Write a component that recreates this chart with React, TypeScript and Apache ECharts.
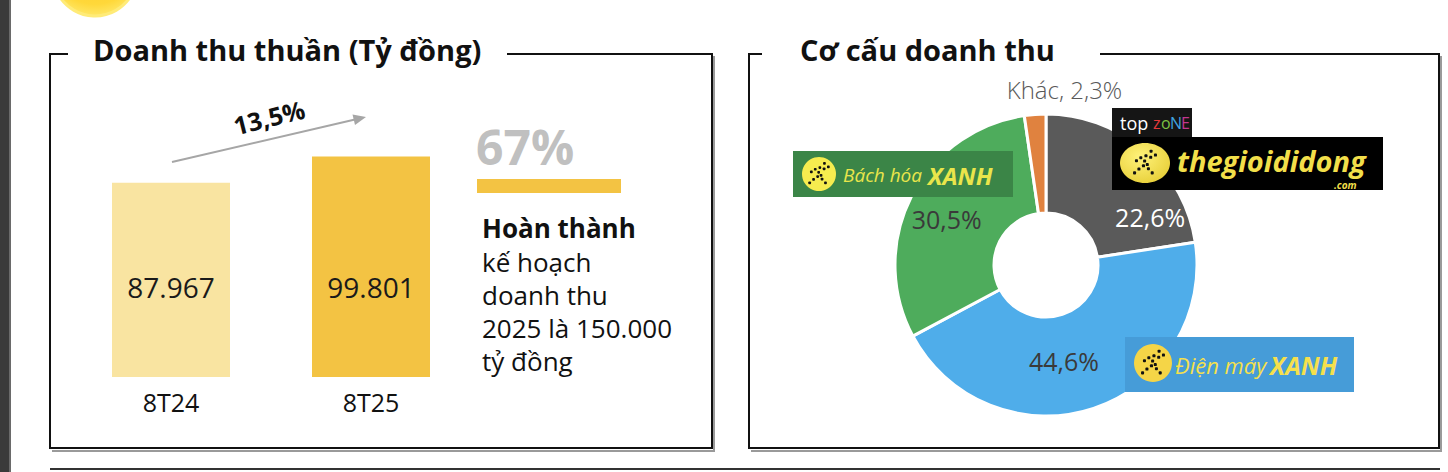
import React, { useEffect, useRef } from "react";
import * as echarts from "echarts";

// ---------- data ----------
const barCategories = ["8T24", "8T25"];
const barValues = [87967, 99801];
const barLabels = ["87.967", "99.801"];
const barColors = ["#F9E4A1", "#F3C343"];

const pieNames = ["Thế Giới Di Động", "Điện Máy Xanh", "Bách Hóa Xanh", "Khác"];
const pieValues = [22.6, 44.6, 30.5, 2.3];
const pieLabels = ["22,6%", "44,6%", "30,5%", "Khác, 2,3%"];
const pieColors = ["#5A5A5A", "#4FADEA", "#4EAC5C", "#E0823F"];
const pieLabelColors = ["#FFFFFF", "#3A3A3A", "#3A3A3A", "#595959"];

const leftTitle = "Doanh thu thuần (Tỷ đồng)";
const rightTitle = "Cơ cấu doanh thu";
const growthText = "13,5%";
const planPct = "67%";
const planHead = "Hoàn thành";
const planLines = ["kế hoạch", "doanh thu", "2025 là 150.000", "tỷ đồng"];

const F = "'Open Sans', 'Noto Sans', sans-serif";

function txt(x: number, y: number, text: string, font: string, fill: string, align = "left", extra: any = {}) {
  return {
    type: "text",
    x,
    y,
    z: 100,
    style: { text, font, fill, align, verticalAlign: "middle" },
    ...extra,
  };
}

function runner(cx: number, cy: number, r: number) {
  const pts = [
    [0.32, -0.62], [0.05, -0.38], [0.3, -0.3], [0.55, -0.42], [-0.22, -0.28],
    [-0.45, -0.12], [-0.02, -0.1], [-0.08, 0.15], [0.18, 0.3], [0.38, 0.52],
    [-0.32, 0.32], [-0.55, 0.52], [0.12, 0.08],
  ];
  const s = r * 0.16;
  return pts.map((p) => ({
    type: "rect",
    z: 101,
    shape: { x: cx + p[0] * r - s / 2, y: cy + p[1] * r - s / 2, width: s, height: s, r: s * 0.3 },
    style: { fill: "#111" },
  }));
}

export default function App() {
  const ref = useRef<HTMLDivElement>(null);
  useEffect(() => {
    if (!ref.current) return;
    const chart = echarts.init(ref.current, null, { renderer: "svg" });
    const labelShift = [[36, 31], [-15, -3], [-6, 1], [26, -71]];

    const graphic: any[] = [
      // left dark strip
      { type: "rect", shape: { x: 0, y: 0, width: 9, height: 472 }, style: { fill: "#3A3A3A" } },
      { type: "rect", shape: { x: 9, y: 0, width: 2, height: 472 }, style: { fill: "#6A6A6A" } },
      // sun
      {
        type: "circle",
        shape: { cx: 95, cy: -26, r: 42 },
        style: {
          fill: new echarts.graphic.RadialGradient(0.5, 0.3, 0.7, [
            { offset: 0, color: "#FFC21F" },
            { offset: 0.8, color: "#FFD83A" },
            { offset: 1, color: "#FFE766" },
          ]),
          stroke: "#FFEB78",
          lineWidth: 3,
        },
      },
      // left box
      { type: "polyline", shape: { points: [[52, 451], [714, 451], [714, 56]] }, style: { stroke: "#9A9A9A", lineWidth: 2, fill: null } },
      { type: "polyline", shape: { points: [[68, 54], [50, 54], [50, 448], [712, 448], [712, 54], [507, 54]] }, style: { stroke: "#111", lineWidth: 2, fill: null } },
      // right box
      { type: "polyline", shape: { points: [[751, 451], [1441, 451], [1441, 56]] }, style: { stroke: "#9A9A9A", lineWidth: 2, fill: null } },
      { type: "polyline", shape: { points: [[762, 54], [749, 54], [749, 448], [1439, 448], [1439, 54], [1100, 54]] }, style: { stroke: "#111", lineWidth: 2, fill: null } },
      // bottom line
      { type: "line", shape: { x1: 50, y1: 469, x2: 1440, y2: 469 }, style: { stroke: "#333", lineWidth: 2 } },
      // titles
      txt(93, 49, leftTitle, `bold 29px ${F}`, "#111"),
      txt(800, 49, rightTitle, `bold 29px ${F}`, "#111"),
      // growth arrow
      { type: "line", shape: { x1: 172, y1: 162, x2: 355, y2: 119.5 }, style: { stroke: "#A6A6A6", lineWidth: 2 } },
      { type: "polygon", shape: { points: [[366, 117], [352.5, 114.5], [355, 125]] }, style: { fill: "#A6A6A6" } },
      txt(269, 117, growthText, `bold 25px ${F}`, "#111", "center", { rotation: (14 * Math.PI) / 180 }),
      // plan
      txt(476, 146, planPct, `bold 48px ${F}`, "#C0C0C0"),
      { type: "rect", shape: { x: 477, y: 179, width: 144, height: 14 }, style: { fill: "#F3C343" } },
      txt(482, 228, planHead, `bold 26px ${F}`, "#111"),
      ...planLines.map((l, i) => txt(482, 262 + i * 33, l, `26px ${F}`, "#111")),
      // Bach hoa XANH logo
      { type: "rect", z: 100, shape: { x: 793, y: 151, width: 220, height: 46 }, style: { fill: "#3B8547" } },
      { type: "circle", z: 100, shape: { cx: 819, cy: 174, r: 17 }, style: { fill: "#F6EC4F" } },
      ...runner(819, 174, 17),
      txt(843, 175, "Bách hóa", `italic 19px ${F}`, "#EAE54B"),
      txt(928, 175, "XANH", `italic bold 24px ${F}`, "#EAE54B"),
      // topzone logo
      { type: "rect", z: 100, shape: { x: 1112, y: 108, width: 80, height: 29 }, style: { fill: "#151515" } },
      txt(1120, 123, "top", `18px ${F}`, "#FFFFFF"),
      txt(1153, 123, "z", `16px ${F}`, "#E5393B"),
      txt(1161, 123, "o", `16px ${F}`, "#7CC242"),
      txt(1170, 123, "N", `16px ${F}`, "#3FA3E0"),
      txt(1181, 123, "E", `16px ${F}`, "#C2378E"),
      // thegioididong logo
      { type: "rect", z: 100, shape: { x: 1112, y: 137, width: 271, height: 53 }, style: { fill: "#000" } },
      {
        type: "ellipse",
        z: 100,
        shape: { cx: 1145, cy: 163, rx: 25, ry: 20 },
        style: {
          fill: new echarts.graphic.RadialGradient(0.4, 0.35, 0.7, [
            { offset: 0, color: "#FFF27A" },
            { offset: 1, color: "#E8D03A" },
          ]),
        },
      },
      ...runner(1145, 163, 19),
      txt(1177, 160, "thegioididong", `italic bold 29px ${F}`, "#F2DF4A"),
      txt(1334, 185, ".com", `italic bold 10px ${F}`, "#F2DF4A"),
      // Dien may XANH logo
      { type: "rect", z: 100, shape: { x: 1125, y: 337, width: 229, height: 55 }, style: { fill: "#469CD8" } },
      { type: "circle", z: 100, shape: { cx: 1153, cy: 363, r: 19 }, style: { fill: "#F5D547" } },
      ...runner(1153, 363, 19),
      txt(1175, 365, "Điện máy", `italic 22px ${F}`, "#F5E04C"),
      txt(1270, 365, "XANH", `italic bold 25px ${F}`, "#F5E04C"),
    ];

    chart.setOption({
      animation: false,
      backgroundColor: "#FFFFFF",
      grid: { left: 71, width: 400, top: 134, height: 243 },
      xAxis: {
        type: "category",
        data: barCategories,
        axisLine: { show: false },
        axisTick: { show: false },
        axisLabel: { color: "#111", fontSize: 25, fontFamily: F, margin: 12 },
      },
      yAxis: { type: "value", show: false, min: 0, max: 110000 },
      series: [
        {
          type: "bar",
          barWidth: 118,
          data: barValues.map((v, i) => ({ value: v, itemStyle: { color: barColors[i] } })),
          label: {
            show: true,
            position: "insideBottom",
            distance: 76,
            color: "#1A1A1A",
            fontSize: 28,
            fontFamily: F,
            formatter: (p: any) => barLabels[p.dataIndex],
          },
        },
        {
          type: "pie",
          center: [1046, 265],
          radius: [52, 151],
          startAngle: 90,
          clockwise: true,
          itemStyle: { borderColor: "#FFFFFF", borderWidth: 3 },
          labelLine: { show: false },
          data: pieValues.map((v, i) => ({
            name: pieNames[i],
            value: v,
            itemStyle: { color: pieColors[i] },
            label: {
              color: pieLabelColors[i],
              fontSize: i === 3 ? 24 : 25,
              fontWeight: i === 3 ? 300 : "normal",
            },
          })),
          label: {
            show: true,
            position: "inside",
            fontFamily: F,
            formatter: (p: any) => pieLabels[p.dataIndex],
          },
          labelLayout: (p: any) => ({ dx: labelShift[p.dataIndex][0], dy: labelShift[p.dataIndex][1] }),
          emphasis: { disabled: true },
        },
      ],
      graphic: { elements: graphic },
    });
    return () => chart.dispose();
  }, []);
  return <div ref={ref} style={{ position: "fixed", left: 0, top: 0, width: 1448, height: 472 }} />;
}
